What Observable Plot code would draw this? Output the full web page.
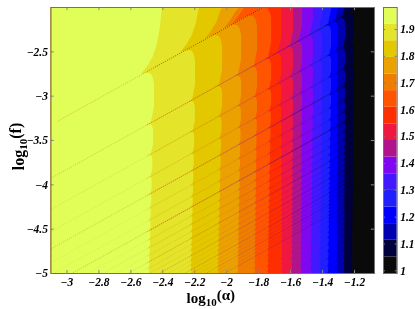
<!DOCTYPE html>
<html><head><meta charset="utf-8">
<script src="https://cdn.jsdelivr.net/npm/d3@7"></script>
<script src="https://cdn.jsdelivr.net/npm/@observablehq/plot@0.6"></script>
<style>
html,body{margin:0;padding:0;background:#fff}
#wrap{position:relative;width:415px;height:309px;overflow:hidden;filter:blur(0.3px)}
#wrap svg{position:absolute;left:0;top:0;background:transparent;max-width:none}
</style></head><body><div id="wrap"></div>
<script>
// colour levels, low to high (value 1 = black, value ~1.98 = pale yellow)
const palette = ["#0a0a0a","#00003f","#0000b0","#0000ff","#2020ff","#4218ff","#8008f0","#b0148c","#f01840","#ff2e00","#ff5500","#ee7d00","#eba200","#e3c800","#e4e42a","#e0fd58"];
const barEdges = [0.99,1.052,1.114,1.176,1.238,1.3,1.362,1.424,1.486,1.548,1.61,1.672,1.734,1.796,1.858,1.92,1.982];
const barTicks = [1,1.1,1.2,1.3,1.4,1.5,1.6,1.7,1.8,1.9];
const xTicks = [-3,-2.8,-2.6,-2.4,-2.2,-2,-1.8,-1.6,-1.4,-1.2];
const yTicks = [-2.5,-3,-3.5,-4,-4.5,-5];
// contour position (log10 alpha), from the pale-yellow edge rightwards to the black edge
const contourUpper = [-2.452,-2.195,-2.026,-1.907,-1.807,-1.719,-1.656,-1.581,-1.525,-1.456,-1.400,-1.344,-1.300,-1.256,-1.200];
const contourLower = [-2.483,-2.220,-2.051,-1.926,-1.820,-1.738,-1.650,-1.588,-1.531,-1.469,-1.412,-1.362,-1.306,-1.262,-1.212];
// where each contour leaves the top edge, above the first diagonal
const contourTop = [-2.396,-2.151,-1.995,-1.876,-1.820];
// intercepts of the diagonal ridges: log10 f = log10 alpha + c
const ridges = [-0.224,-0.826,-1.178,-1.428,-1.622,-1.780,-1.914,-2.030,-2.132,-2.224,-2.307,-2.382,-2.452,-2.516,-2.576,-2.632,-2.685,-2.735,-2.782,-2.826,-2.868,-2.909,-2.947,-2.984,-3.020,-3.054,-3.118,-3.178,-3.234,-3.312,-3.384,-3.470,-3.550,-3.622,-3.705,-3.780];
const ridgeStrength = [0.85,0.75,0.45,0.35,0.75,0.25,0.25,0.8,0.22,0.3,0.18,0.45,0.18,0.18,0.4,0.15,0.15,0.4,0.15,0.15,0.35,0.12,0.12,0.35];
const ridgeStart = [-3.06,-3.1,-3.1,-3.1,-3.1,-3.1,-3.1,-3.1,-3.1,-3.1,-3.1,-3.1,-3.1,-3.1,-3.1,-3.1,-3.1,-3.1,-3.1,-3.1,-3.1,-3.1,-3.1,-3.1];
// contour shape read from the largest lobes
const aboveGap = [1.2,0.7,0.4,0.23,0.12,0.05,0];
const aboveShift = [0,-0.006,-0.02,-0.04,-0.065,-0.1,-0.14];
const lobeDepth = [0,0.03,0.08,0.15,0.3,0.75,1];
const lobeShift = [-0.135,-0.08,-0.04,-0.018,0,0,-0.03];

const xDomain = [-3.1,-1.075], yDomain = [-5,-2];
const clamp01 = v => Math.max(0, Math.min(1, v));
const baseAt = (k, y) => contourUpper[k] + (contourLower[k]-contourUpper[k])*clamp01((-3-y)/2);

function contourPath(k){
  const pts = [];
  if (k < contourTop.length){
    aboveGap.forEach((g,i)=>{ const x = contourTop[k]+aboveShift[i]; pts.push({x,y:Math.min(-2,x+ridges[0]+g)}); });
  } else pts.push({x:contourUpper[k],y:-2});
  for (let n=1;n<ridges.length;n++){
    const H = ridges[n-1]-ridges[n];
    const S = Math.max(H,0.15);
    let yy = contourUpper[k]+ridges[n-1];
    lobeDepth.forEach((t,i)=>{
      const x = baseAt(k,yy)+lobeShift[i]*S;
      yy = x+ridges[n-1]-t*H;
      if (yy<=-2) pts.push({x,y:yy});
    });
  }
  const last = pts[pts.length-1];
  if (last.y>-5) pts.push({x:contourLower[k],y:-5.01});
  return pts.map(p=>({...p,k}));
}
const bandMarks = [Plot.rect([0],{x1:()=>xDomain[0],x2:()=>xDomain[1],y1:()=>yDomain[0],y2:()=>yDomain[1],fill:palette[0]})];
for (let k=14;k>=0;k--){
  bandMarks.push(Plot.areaX(contourPath(k),{x1:()=>xDomain[0],x2:"x",y:"y",fill:palette[15-k],clip:true}));
}
// ridge lines, coloured some levels below the band they run through
const segs = [];
ridgeStrength.forEach((s,n)=>{
  for (let x=ridgeStart[n];x<-1.12;x+=0.0125){
    const y=x+ridges[n];
    if (y>-2||y<-5) continue;
    let b=0; while(b<15&&x>baseAt(b,y)) b++;
    const p=Math.max(0,15-b-(b===0?5:6));
    const fade = x<-2.5? 0.5:1;
    segs.push({x1:x,x2:x+0.0125,y1:y,y2:y+0.0125,c:palette[p],o:s*fade});
  }
});
const fmt = d => String(d).replace("-","\u2212");
const font = "'Liberation Serif',serif";
const main = Plot.plot({
  width:415,height:309,marginLeft:50.5,marginRight:41,marginTop:7,marginBottom:36,
  x:{domain:xDomain},y:{domain:yDomain},
  marks:[
    ...bandMarks,
    Plot.link(segs,{x1:"x1",x2:"x2",y1:"y1",y2:"y2",stroke:"c",strokeOpacity:"o",strokeWidth:1,strokeDasharray:"1 1.2",clip:true}),
    Plot.ruleX(xTicks,{y1:-5,y2:-4.965,stroke:"#888"}),
    Plot.ruleX(xTicks,{y1:-2.035,y2:-2,stroke:"#888"}),
    Plot.ruleY(yTicks,{x1:-3.1,x2:-3.08,stroke:"#888"}),
    Plot.ruleY(yTicks,{x1:-1.095,x2:-1.075,stroke:"#888"}),
    Plot.frame({stroke:"#707070",strokeWidth:1}),
    Plot.axisX(xTicks,{tickSize:0,tickPadding:4,tickFormat:fmt,label:null,fontFamily:font,fontSize:11.5,fontWeight:"bold",fontStyle:"italic",fill:"#000"}),
    Plot.axisY(yTicks,{tickSize:0,tickPadding:3,tickFormat:fmt,label:null,fontFamily:font,fontSize:11.5,fontWeight:"bold",fontStyle:"italic",fill:"#000"}),
    Plot.text(["log10(\u03b1)"],{frameAnchor:"bottom",dy:29,dx:-2,fontFamily:font,fontSize:15,fontWeight:"bold",lineAnchor:"bottom",fill:"#000"}),
    Plot.text(["log10(f)"],{frameAnchor:"left",rotate:-90,dx:-32,dy:6,textAnchor:"middle",fontFamily:font,fontSize:16,fontWeight:"bold",fill:"#000"})
  ]
});
d3.select(main).selectAll("text").each(function(){
  const t=this.textContent;
  const m=/^log10(\(.*\))$/.exec(t);
  if(!m) return;
  const s=d3.select(this); s.text("");
  s.append("tspan").text("log");
  s.append("tspan").attr("dy","0.3em").attr("font-size","11").text("10");
  s.append("tspan").attr("dy","-0.42em").text(m[1]);
});
const bands = palette.map((c,i)=>({c,y1:barEdges[i],y2:barEdges[i+1]}));
const bar = Plot.plot({
  width:415,height:309,marginLeft:383,marginRight:18.3,marginTop:7,marginBottom:36,
  x:{domain:[0,1],axis:null},y:{domain:[0.99,1.982]},
  marks:[
    Plot.rect(bands,{x1:()=>0,x2:()=>1,y1:"y1",y2:"y2",fill:"c"}),
    Plot.ruleY(barTicks,{x1:0,x2:0.15,stroke:"#777"}),
    Plot.ruleY(barTicks,{x1:0.85,x2:1,stroke:"#777"}),
    Plot.frame({stroke:"#707070"}),
    Plot.axisY(barTicks,{anchor:"right",tickSize:0,tickPadding:3,label:null,tickFormat:d=>String(d),fontFamily:font,fontSize:11.5,fontWeight:"bold",fontStyle:"italic",fill:"#000"})
  ]
});
const w=document.getElementById("wrap");
w.appendChild(main);w.appendChild(bar);
</script></body></html>
